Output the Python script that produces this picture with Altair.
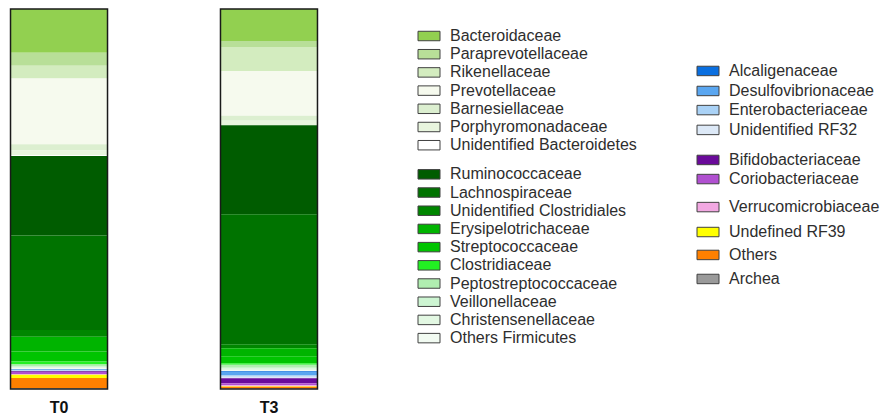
import altair as alt
import pandas as pd

families = [
    "Bacteroidaceae", "Paraprevotellaceae", "Rikenellaceae", "Prevotellaceae",
    "Barnesiellaceae", "Porphyromonadaceae", "Unidentified Bacteroidetes",
    "Ruminococcaceae", "Lachnospiraceae", "Unidentified Clostridiales",
    "Erysipelotrichaceae", "Streptococcaceae", "Clostridiaceae",
    "Peptostreptococcaceae", "Veillonellaceae", "Christensenellaceae",
    "Others Firmicutes",
    "Alcaligenaceae", "Desulfovibrionaceae", "Enterobacteriaceae", "Unidentified RF32",
    "Bifidobacteriaceae", "Coriobacteriaceae",
    "Verrucomicrobiaceae", "Undefined RF39", "Others", "Archea",
]
colors = [
    "#92d050", "#b8df98", "#d3ecbf", "#f6faee",
    "#dcefd0", "#e8f5de", "#ffffff",
    "#005c00", "#007300", "#008600",
    "#00b400", "#00c400", "#22f022",
    "#b0eeb0", "#cdf5d2", "#e3f8e3",
    "#f2fbf2",
    "#0a6fe0", "#5aa6f0", "#aad2f6", "#dde9f7",
    "#6a0a9a", "#b050d0",
    "#f2a8e2", "#ffff00", "#ff8000", "#9a9a9a",
]
t0_values = [
    11.6, 3.4, 3.4, 17.4, 1.6, 1.3, 0.2,
    21.0, 25.0, 1.8, 3.9, 2.6, 0.8, 0.4, 0.3, 0.3, 0.3,
    0.1, 0.2, 0.1, 0.1, 0.2, 0.5, 0.2, 0.9, 2.7, 0.2,
]
t3_values = [
    8.4, 1.6, 6.3, 11.8, 1.3, 1.1, 0.1,
    23.4, 34.2, 1.1, 2.1, 1.8, 0.4, 0.8, 0.3, 0.3, 0.3,
    0.2, 0.8, 0.5, 0.4, 1.3, 0.5, 0.3, 0.1, 0.5, 0.1,
]
samples = ["T0", "T3"]

# legend layout: column and row slot for each family
legend_col = [0] * 17 + [1] * 10
legend_row = [0, 1, 2, 3, 4, 5, 6,
              7.6, 8.6, 9.6, 10.6, 11.6, 12.6, 13.6, 14.6, 15.6, 16.6,
              1.92, 3.02, 4.07, 5.16, 6.81, 7.86, 9.40, 10.77, 12.03, 13.35]

rows = []
for s, vals in zip(samples, [t0_values, t3_values]):
    for i, (f, v) in enumerate(zip(families, vals)):
        rows.append({"sample": s, "family": f, "value": v, "idx": i})
df = pd.DataFrame(rows)

leg = pd.DataFrame({"family": families, "col": legend_col, "row": legend_row})

color_scale = alt.Scale(domain=families, range=colors)
FONT = "Liberation Sans, Arial, Helvetica, sans-serif"

H = 380
x_enc = alt.X("sample:N", sort=samples,
              scale=alt.Scale(paddingInner=0.538, paddingOuter=0.012),
              axis=alt.Axis(title=None, domain=False, ticks=False, labelAngle=0,
                            labelFont=FONT, labelFontSize=16, labelFontWeight="bold",
                            labelColor="#111111", labelPadding=10))

segments = alt.Chart(df).mark_bar(strokeWidth=0).encode(
    x=x_enc,
    y=alt.Y("value:Q", stack="normalize", axis=None, scale=alt.Scale(domain=[0, 1])),
    color=alt.Color("family:N", scale=color_scale, legend=None),
    order=alt.Order("idx:Q", sort="descending"),
)

outline = alt.Chart(df).transform_aggregate(
    total="sum(value)", groupby=["sample"]
).transform_calculate(
    frac="datum.total / datum.total"
).mark_bar(fillOpacity=0, stroke="#1a1a1a", strokeWidth=1.5).encode(
    x=alt.X("sample:N", sort=samples,
            scale=alt.Scale(paddingInner=0.538, paddingOuter=0.012)),
    y=alt.Y("frac:Q", axis=None, scale=alt.Scale(domain=[0, 1])),
)

bars = alt.layer(segments, outline).properties(width=312, height=H)

x_leg = alt.X("col:Q", axis=None, scale=alt.Scale(domain=[0, 1], range=[109, 388]))
y_leg = alt.Y("row:Q", axis=None,
              scale=alt.Scale(domain=[-1.484, 19.396], reverse=True, nice=False, zero=False))

swatch_path = "M-1,-0.43L1,-0.43L1,0.43L-1,0.43Z"
swatches = alt.Chart(leg).mark_point(
    shape=swatch_path, size=484, filled=True, opacity=1,
    stroke="#404040", strokeWidth=1,
).encode(
    x=x_leg, y=y_leg,
    fill=alt.Fill("family:N", scale=color_scale, legend=None),
)
labels = alt.Chart(leg).mark_text(
    align="left", baseline="middle", dx=21, font=FONT, fontSize=16, color="#2e2e2e",
).encode(x=x_leg, y=y_leg, text="family:N")

legend = alt.layer(swatches, labels).properties(width=555, height=H)

chart = alt.hconcat(bars, legend, spacing=0).properties(
    padding={"left": 0, "top": 0, "right": 0, "bottom": 0}
).configure_view(stroke=None)

chart.save("out.html", embed_options={"renderer": "svg", "actions": False})
